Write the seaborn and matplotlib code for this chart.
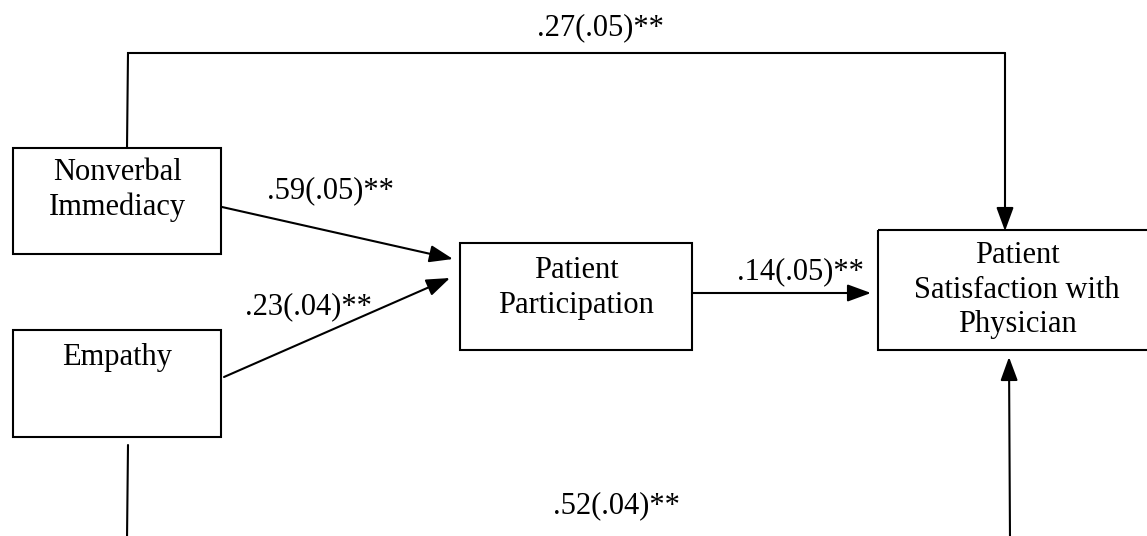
import matplotlib
matplotlib.use("Agg")
import matplotlib.pyplot as plt
import seaborn as sns
from matplotlib.patches import Rectangle

# path model: variables and coefficients (estimate(se)**)
variables = ["Nonverbal\nImmediacy", "Empathy", "Patient\nParticipation",
             "Patient\nSatisfaction with\nPhysician"]
estimates = [.59, .23, .14, .27, .52]
std_errors = [.05, .04, .05, .05, .04]
stars = ["**", "**", "**", "**", "**"]

sns.set_theme(style="white")
plt.rcParams['font.family'] = ['Liberation Serif', 'DejaVu Serif']
plt.rcParams['text.color'] = 'black'

fig = plt.figure(figsize=(11.47, 5.36), dpi=100)
ax = fig.add_axes([0, 0, 1, 1])
ax.set_xlim(0, 1147)
ax.set_ylim(536, 0)
ax.axis('off')

# box layout (x0, y0, x1, y1) and text centre in pixel space
boxes = [(13, 148, 221, 254), (13, 330, 221, 437),
         (460, 243, 692, 350), (878, 230, 1150, 350)]
text_pos = [(117, 190), (117, 357), (576, 288), (1017, 290)]
fs = 22
for name, (x0, y0, x1, y1), (tx, ty) in zip(variables, boxes, text_pos):
    ax.add_patch(Rectangle((x0, y0), x1 - x0, y1 - y0, fill=False,
                           edgecolor='black', lw=1.5))
    ax.text(tx, ty, name, ha='center', va='center', fontsize=fs,
            linespacing=1.25)

labels = [f"{e:.2f}({s:.2f}){st}".replace("0.", ".") for e, s, st in zip(estimates, std_errors, stars)]

arrow = dict(arrowstyle='-|>,head_length=0.6,head_width=0.22', lw=1.5, color='black',
             shrinkA=0, shrinkB=0, mutation_scale=24)

# straight paths
ax.annotate('', xy=(453, 259), xytext=(222, 207), arrowprops=arrow)
ax.annotate('', xy=(450, 278), xytext=(224, 377), arrowprops=arrow)
ax.annotate('', xy=(871, 293), xytext=(692, 293), arrowprops=arrow)
ax.text(330, 191, labels[0], ha='center', va='center', fontsize=fs)
ax.text(308, 307, labels[1], ha='center', va='center', fontsize=fs)
ax.text(800, 272, labels[2], ha='center', va='center', fontsize=fs)

# direct path over the top
ax.plot([127, 128, 1005], [148, 53, 53], color='black', lw=1.5, solid_joinstyle='miter')
ax.annotate('', xy=(1005, 231), xytext=(1005, 53), arrowprops=arrow)
ax.text(600, 28, labels[3], ha='center', va='center', fontsize=fs)

# direct path along the bottom
ax.plot([128, 127], [445, 540], color='black', lw=1.5)
ax.annotate('', xy=(1009, 357), xytext=(1010, 540), arrowprops=arrow)
ax.text(616, 506, labels[4], ha='center', va='center', fontsize=fs)

fig.savefig("out.png", dpi=100)
